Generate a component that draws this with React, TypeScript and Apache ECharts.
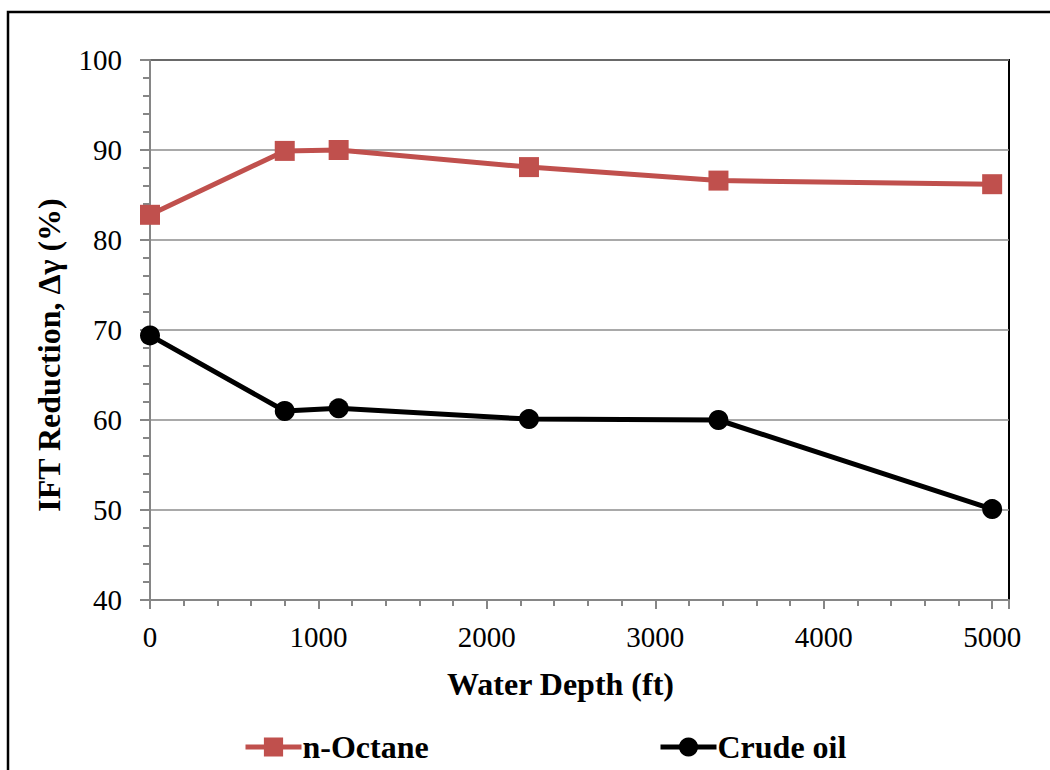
import React, { useEffect, useRef } from "react";
import * as echarts from "echarts";

const depths: number[] = [0, 800, 1120, 2250, 3375, 5000];
const octaneValues: number[] = [82.8, 89.9, 90.0, 88.1, 86.6, 86.2];
const crudeValues: number[] = [69.4, 61.0, 61.3, 60.1, 60.0, 50.1];
const seriesNames: string[] = ["n-Octane", "Crude oil"];
const xTitle = "Water Depth (ft)";
const yTitle = "IFT Reduction, Δγ (%)";

const FONT = "'Liberation Serif', 'Times New Roman', serif";

export default function App() {
  const ref = useRef<HTMLDivElement>(null);
  useEffect(() => {
    if (!ref.current) return;
    const chart = echarts.init(ref.current, undefined, { renderer: "svg" });
    const octane = depths.map((d, i) => [d, octaneValues[i]]);
    const crude = depths.map((d, i) => [d, crudeValues[i]]);
    const legendText = { fontFamily: FONT, fontWeight: "bold", fontSize: 32, color: "#000", padding: [0, 0, 0, -4] };
    chart.setOption({
      animation: false,
      backgroundColor: "#ffffff",
      textStyle: { fontFamily: FONT },
      grid: {
        left: 150,
        top: 60,
        right: 41,
        bottom: 170,
        show: true,
        borderColor: "#000000",
        borderWidth: 2,
        backgroundColor: "transparent",
      },
      graphic: [
        {
          type: "rect",
          shape: { x: 8, y: 12, width: 1200, height: 900 },
          style: { fill: "none", stroke: "#000000", lineWidth: 2.5 },
          silent: true,
          z: 100,
        },
        {
          type: "text",
          x: 49,
          y: 355,
          rotation: Math.PI / 2,
          style: {
            text: yTitle,
            fontFamily: FONT,
            fontWeight: "bold",
            fontSize: 32,
            fill: "#000",
            align: "center",
            verticalAlign: "middle",
          },
          silent: true,
        },
      ],
      legend: [
        {
          data: [seriesNames[0]],
          left: 238,
          top: 726,
          itemWidth: 56,
          itemHeight: 24,
          itemGap: 0,
          lineStyle: { width: 5 },
          textStyle: legendText,
        },
        {
          data: [seriesNames[1]],
          left: 653,
          top: 726,
          itemWidth: 56,
          itemHeight: 24,
          itemGap: 0,
          lineStyle: { width: 5 },
          textStyle: legendText,
        },
      ],
      xAxis: {
        type: "value",
        min: 0,
        max: 5100,
        interval: 1000,
        name: xTitle,
        nameLocation: "middle",
        nameGap: 68,
        nameTextStyle: { fontFamily: FONT, fontWeight: "bold", fontSize: 32, color: "#000", padding: [0, 38, 0, 0] },
        axisLine: { show: true, onZero: false, lineStyle: { color: "#868686", width: 2 } },
        axisTick: { show: true, inside: false, length: 9, lineStyle: { color: "#868686", width: 2 } },
        minorTick: { show: true, splitNumber: 5, length: 6, lineStyle: { color: "#868686", width: 2 } },
        splitLine: { show: false },
        axisLabel: {
          fontFamily: FONT,
          fontSize: 29,
          color: "#000",
          margin: 22,
          showMaxLabel: false,
          formatter: (v: number) => (v % 1000 === 0 ? String(v) : ""),
        },
      },
      yAxis: {
        type: "value",
        min: 40,
        max: 100,
        interval: 10,
        axisLine: { show: true, onZero: false, lineStyle: { color: "#868686", width: 2 } },
        axisTick: { show: true, inside: false, length: 10, lineStyle: { color: "#868686", width: 2 } },
        minorTick: { show: true, splitNumber: 5, length: 7, lineStyle: { color: "#868686", width: 2 } },
        splitLine: { show: true, lineStyle: { color: "#8c8c8c", width: 1.5 } },
        axisLabel: { fontFamily: FONT, fontSize: 29, color: "#000", margin: 28 },
      },
      series: [
        {
          name: seriesNames[0],
          type: "line",
          data: octane,
          symbol: "rect",
          symbolSize: 20,
          itemStyle: { color: "#C0504D" },
          lineStyle: { color: "#C0504D", width: 5 },
          z: 3,
        },
        {
          name: seriesNames[1],
          type: "line",
          data: crude,
          symbol: "circle",
          symbolSize: 20,
          itemStyle: { color: "#000000" },
          lineStyle: { color: "#000000", width: 5 },
          z: 4,
        },
      ],
    });
    return () => chart.dispose();
  }, []);
  return (
    <div
      ref={ref}
      style={{ position: "fixed", left: 0, top: 0, width: 1050, height: 770 }}
    />
  );
}
